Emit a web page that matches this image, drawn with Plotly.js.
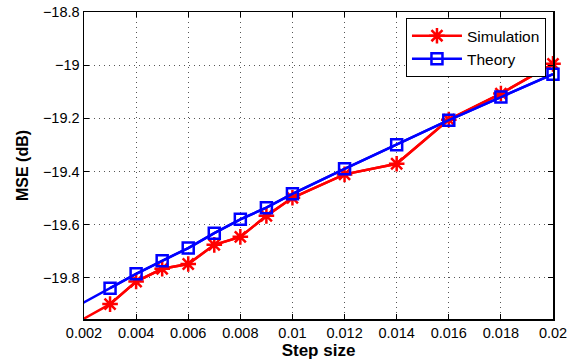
<!DOCTYPE html>
<html>
<head>
<meta charset="utf-8">
<script src="https://cdn.plot.ly/plotly-3.0.1.min.js"></script>
<style>html,body{margin:0;padding:0;background:#fff;}#chart{width:574px;height:360px;}</style>
</head>
<body>
<div id="chart"></div>
<script>
const stepSize = [0.001, 0.003, 0.004, 0.005, 0.006, 0.007, 0.008, 0.009, 0.010, 0.012, 0.014, 0.016, 0.018, 0.020];
const simulation = [-20.008, -19.899, -19.814, -19.766, -19.748, -19.676, -19.646, -19.567, -19.499, -19.411, -19.371, -19.205, -19.107, -18.995];
const theory = [-19.946, -19.839, -19.785, -19.736, -19.688, -19.632, -19.580, -19.536, -19.484, -19.390, -19.299, -19.207, -19.120, -19.034];
const xTickVals = [0.002, 0.004, 0.006, 0.008, 0.01, 0.012, 0.014, 0.016, 0.018, 0.02];
const xTickText = ['0.002', '0.004', '0.006', '0.008', '0.01', '0.012', '0.014', '0.016', '0.018', '0.02'];
const yTickVals = [-19.8, -19.6, -19.4, -19.2, -19, -18.8];
const yTickText = ['\u221219.8', '\u221219.6', '\u221219.4', '\u221219.2', '\u221219', '\u221218.8'];

const font = 'Liberation Sans, Arial, Helvetica, sans-serif';
const red = '#ff0000', blue = '#0000ff';
// first point (0.001) lies left of the visible range: only its line segment shows (clipped)
const traces = [
  {x: stepSize, y: simulation, mode: 'lines', showlegend: false, hoverinfo: 'skip',
   line: {color: red, width: 2.5}},
  {x: stepSize, y: theory, mode: 'lines', showlegend: false, hoverinfo: 'skip',
   line: {color: blue, width: 2.5}},
  {x: stepSize.slice(1), y: simulation.slice(1), name: 'Simulation', mode: 'lines+markers', cliponaxis: false,
   line: {color: red, width: 2.5},
   marker: {symbol: 'asterisk-open', size: 13, color: red, line: {color: red, width: 2.5}}},
  {x: stepSize.slice(1), y: theory.slice(1), name: 'Theory', mode: 'lines+markers', cliponaxis: false,
   line: {color: blue, width: 2.5},
   marker: {symbol: 'square-open', size: 11, color: blue, line: {color: blue, width: 2.5}}}
];
const axisCommon = {
  showline: true, linecolor: '#000', linewidth: 1.5, mirror: 'ticks',
  ticks: 'inside', ticklen: 5, tickcolor: '#000', tickwidth: 1,
  showgrid: true, gridcolor: '#555', griddash: '1px,4px', gridwidth: 1,
  zeroline: false, tickfont: {family: font, size: 14.5, color: '#000'}
};
const layout = {
  width: 574, height: 360,
  margin: {l: 84, r: 21, t: 12, b: 41},
  paper_bgcolor: '#fff', plot_bgcolor: '#fff',
  font: {family: font, color: '#000'},
  showlegend: true,
  xaxis: Object.assign({}, axisCommon, {
    range: [0.002, 0.02], tickmode: 'array', tickvals: xTickVals, ticktext: xTickText,
    title: {text: '<b>Step size</b>', font: {family: font, size: 17, color: '#000'}, standoff: 6}
  }),
  yaxis: Object.assign({}, axisCommon, {
    range: [-19.955, -18.8], tickmode: 'array', tickvals: yTickVals, ticktext: yTickText,
    title: {text: '<b>MSE (dB)</b>', font: {family: font, size: 16, color: '#000'}, standoff: 10}
  }),
  legend: {
    x: 0.985, y: 0.98, xanchor: 'right', yanchor: 'top',
    bgcolor: '#fff', bordercolor: '#000', borderwidth: 1,
    font: {family: font, size: 15.5, color: '#000'},
    itemwidth: 50, tracegroupgap: 0
  }
};
Plotly.newPlot('chart', traces, layout, {staticPlot: true, displayModeBar: false});
</script>
</body>
</html>
